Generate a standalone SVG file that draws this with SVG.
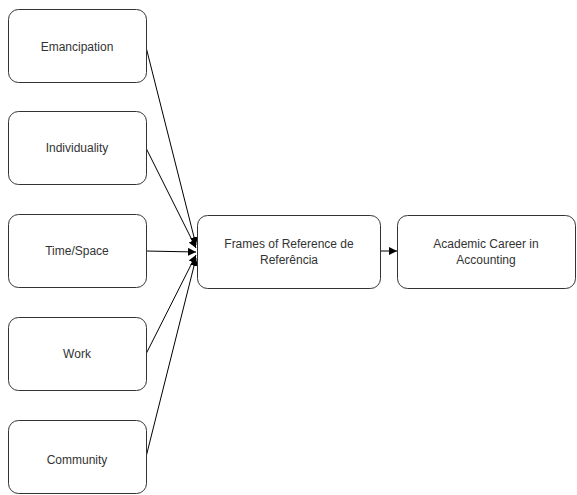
<svg xmlns="http://www.w3.org/2000/svg" width="577" height="495" viewBox="0 0 577 495">
<defs>
<marker id="ah" viewBox="0 0 10 10" refX="10" refY="5" markerWidth="8" markerHeight="8" markerUnits="userSpaceOnUse" orient="auto">
<path d="M0,0 L10,5 L0,10 z" fill="#000"/>
</marker>
<style>
.box{fill:#fff;stroke:#333;stroke-width:1}
.t{font-family:"Liberation Sans",Arial,sans-serif;font-size:12px;fill:#333;text-anchor:middle}
.c{stroke:#000;stroke-width:1;fill:none;marker-end:url(#ah)}
</style>
</defs>
<rect width="577" height="495" fill="#fff"/>
<g id="connectors">
<line class="c" x1="146" y1="47" x2="196" y2="245"/>
<line class="c" x1="146" y1="148" x2="196" y2="248"/>
<line class="c" x1="146" y1="251" x2="196" y2="252"/>
<line class="c" x1="146" y1="354" x2="196" y2="255"/>
<line class="c" x1="146" y1="457" x2="196" y2="258"/>
<line class="c" x1="381" y1="251" x2="397" y2="251"/>
</g>
<g id="emancipation">
<rect class="box" x="8.5" y="9.5" width="138" height="73" rx="10"/>
<text class="t" x="77" y="51">Emancipation</text>
</g>
<g id="individuality">
<rect class="box" x="8.5" y="111.5" width="138" height="73" rx="10"/>
<text class="t" x="77" y="152">Individuality</text>
</g>
<g id="timespace">
<rect class="box" x="8.5" y="214.5" width="138" height="73" rx="10"/>
<text class="t" x="77" y="255">Time/Space</text>
</g>
<g id="work">
<rect class="box" x="8.5" y="317.5" width="138" height="73" rx="10"/>
<text class="t" x="77" y="358">Work</text>
</g>
<g id="community">
<rect class="box" x="8.5" y="420.5" width="138" height="73" rx="10"/>
<text class="t" x="77" y="464">Community</text>
</g>
<g id="frames">
<rect class="box" x="197.5" y="215.5" width="183" height="73" rx="10"/>
<text class="t" x="289" y="248">Frames of Reference de</text>
<text class="t" x="289" y="264">Referência</text>
</g>
<g id="academic">
<rect class="box" x="397.5" y="215.5" width="178" height="73" rx="10"/>
<text class="t" x="486" y="248">Academic Career in</text>
<text class="t" x="486" y="264">Accounting</text>
</g>
</svg>
